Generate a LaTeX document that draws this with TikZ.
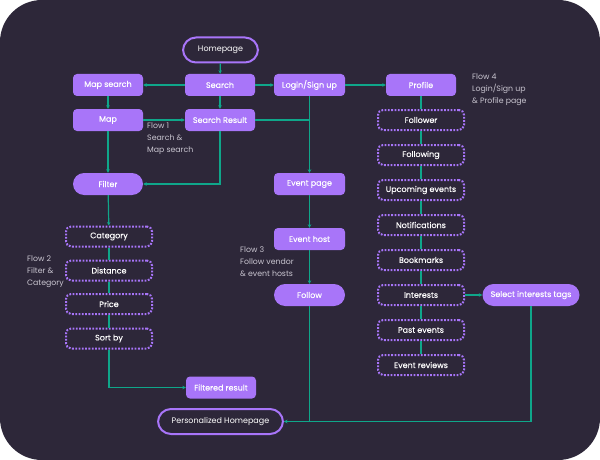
\documentclass[tikz,border=0pt]{standalone}
\usepackage{fontspec}
\setmainfont{Poppins}
\newfontfamily\nodefont{Poppins}[FakeBold=0.25]
\newfontfamily\dotfont{Poppins}[FakeBold=0.15]
\usetikzlibrary{arrows.meta}
\definecolor{bg}{HTML}{2D2739}
\definecolor{pur}{HTML}{A875F9}
\definecolor{tl}{HTML}{0FA68A}
\definecolor{lbl}{HTML}{C9C5D0}
\begin{document}
\begin{tikzpicture}[x=1pt,y=-1pt,
 box/.style={rectangle, rounded corners=4pt, fill=pur, minimum width=70pt, minimum height=22pt, text=white, font=\nodefont\fontsize{8}{9}\selectfont, inner sep=0pt},
 pill/.style={box, rounded corners=11pt},
 opill/.style={rectangle, rounded corners=13pt, draw=pur, line width=2pt, fill=bg, text=white, minimum height=25pt, inner sep=0pt, font=\fontsize{8}{9}\selectfont},
 dotbox/.style={rectangle, rounded corners=5pt, draw=pur, line width=2pt, dash pattern=on 1.8pt off 1.5pt, fill=bg, minimum width=86pt, minimum height=20pt, text=white, inner sep=0pt, font=\dotfont\fontsize{8}{9}\selectfont},
 conn/.style={draw=tl, line width=1.2pt},
 arr/.style={conn, -{Stealth[length=3.5pt,width=3.5pt]}},
 flow/.style={text=lbl, font=\fontsize{7.8}{12}\selectfont, align=left, anchor=north west, inner sep=0pt}
]
\useasboundingbox (0,0) rectangle (600,460);
\fill[white] (0,0) rectangle (600,460);
\fill[bg, rounded corners=42pt] (0,0) rectangle (600,460);

% nodes
\node[opill, minimum width=75pt] (home) at (220.5,50) {Homepage};
\node[box] (mapsearch) at (108,85) {Map search};
\node[box] (search) at (220,85) {Search};
\node[box, minimum width=71pt] (login) at (309.5,85) {Login/Sign up};
\node[box] (profile) at (421,85) {Profile};
\node[box] (map) at (108,120) {Map};
\node[box] (sr) at (220,120) {Search Result};
\node[pill] (filter) at (108,184) {Filter};
\node[box, minimum width=71pt] (eventpage) at (309.5,184) {Event page};
\node[box, minimum width=71pt] (eventhost) at (309.5,239) {Event host};
\node[pill, minimum width=71pt] (follow) at (309.5,295) {Follow};

\node[dotbox] (category) at (109,236.5) {Category};
\node[dotbox] (distance) at (109,270.5) {Distance};
\node[dotbox] (price) at (109,304) {Price};
\node[dotbox] (sortby) at (109,338.5) {Sort by};
\node[box] (filtered) at (221,387.5) {Filtered result};
\node[opill, minimum width=125pt] (phome) at (220.5,421.5) {Personalized Homepage};

\node[dotbox] (follower) at (421,120) {Follower};
\node[dotbox] (following) at (421,155) {Following};
\node[dotbox] (upcoming) at (421,190) {Upcoming events};
\node[dotbox] (notif) at (421,225) {Notifications};
\node[dotbox] (bookmarks) at (421,260) {Bookmarks};
\node[dotbox] (interests) at (421,295) {Interests};
\node[dotbox] (past) at (421,330) {Past events};
\node[dotbox] (reviews) at (421,365) {Event reviews};
\node[pill, minimum width=97pt] (select) at (531,295) {Select interests tags};

% flow labels
\node[flow] (f1) at (147,123) {Flow 1\\Search \&\\Map search};
\node[flow] (f2) at (27,255.5) {Flow 2\\Filter \&\\Category};
\node[flow] (f3) at (240,246.5) {Flow 3\\Follow vendor\\\& event hosts};
\node[flow] (f4) at (472,73.5) {Flow 4\\Login/Sign up\\\& Profile page};

% connectors
\draw[arr] (home) -- (search);
\draw[arr] (search) -- (mapsearch);
\draw[arr] (search) -- (login);
\draw[arr] (login) -- (profile);
\draw[arr] (mapsearch) -- (map);
\draw[arr] (search) -- (sr);
\draw[arr] (map) -- (sr);
\coordinate (j1) at (login.south |- sr.east);
\draw[conn] (sr.east) -- (j1);
\draw[arr] (login) -- (eventpage);
\draw[arr] (map) -- (filter);
\draw[arr] (sr.south) |- (filter.east);
\draw[arr] (filter) -- (category);
\draw[conn] (category) -- (distance) -- (price) -- (sortby);
\draw[arr] (sortby.south) |- (filtered.west);
\draw[arr] (eventpage) -- (eventhost);
\draw[arr] (eventhost) -- (follow);
\draw[conn] (select.south) |- (phome.east);
\draw[arr] (follow.south) |- (phome.east);
\draw[conn] (profile) -- (follower) -- (following) -- (upcoming) -- (notif) -- (bookmarks) -- (interests) -- (past) -- (reviews);
\draw[arr] (interests) -- (select);
\end{tikzpicture}
\end{document}
